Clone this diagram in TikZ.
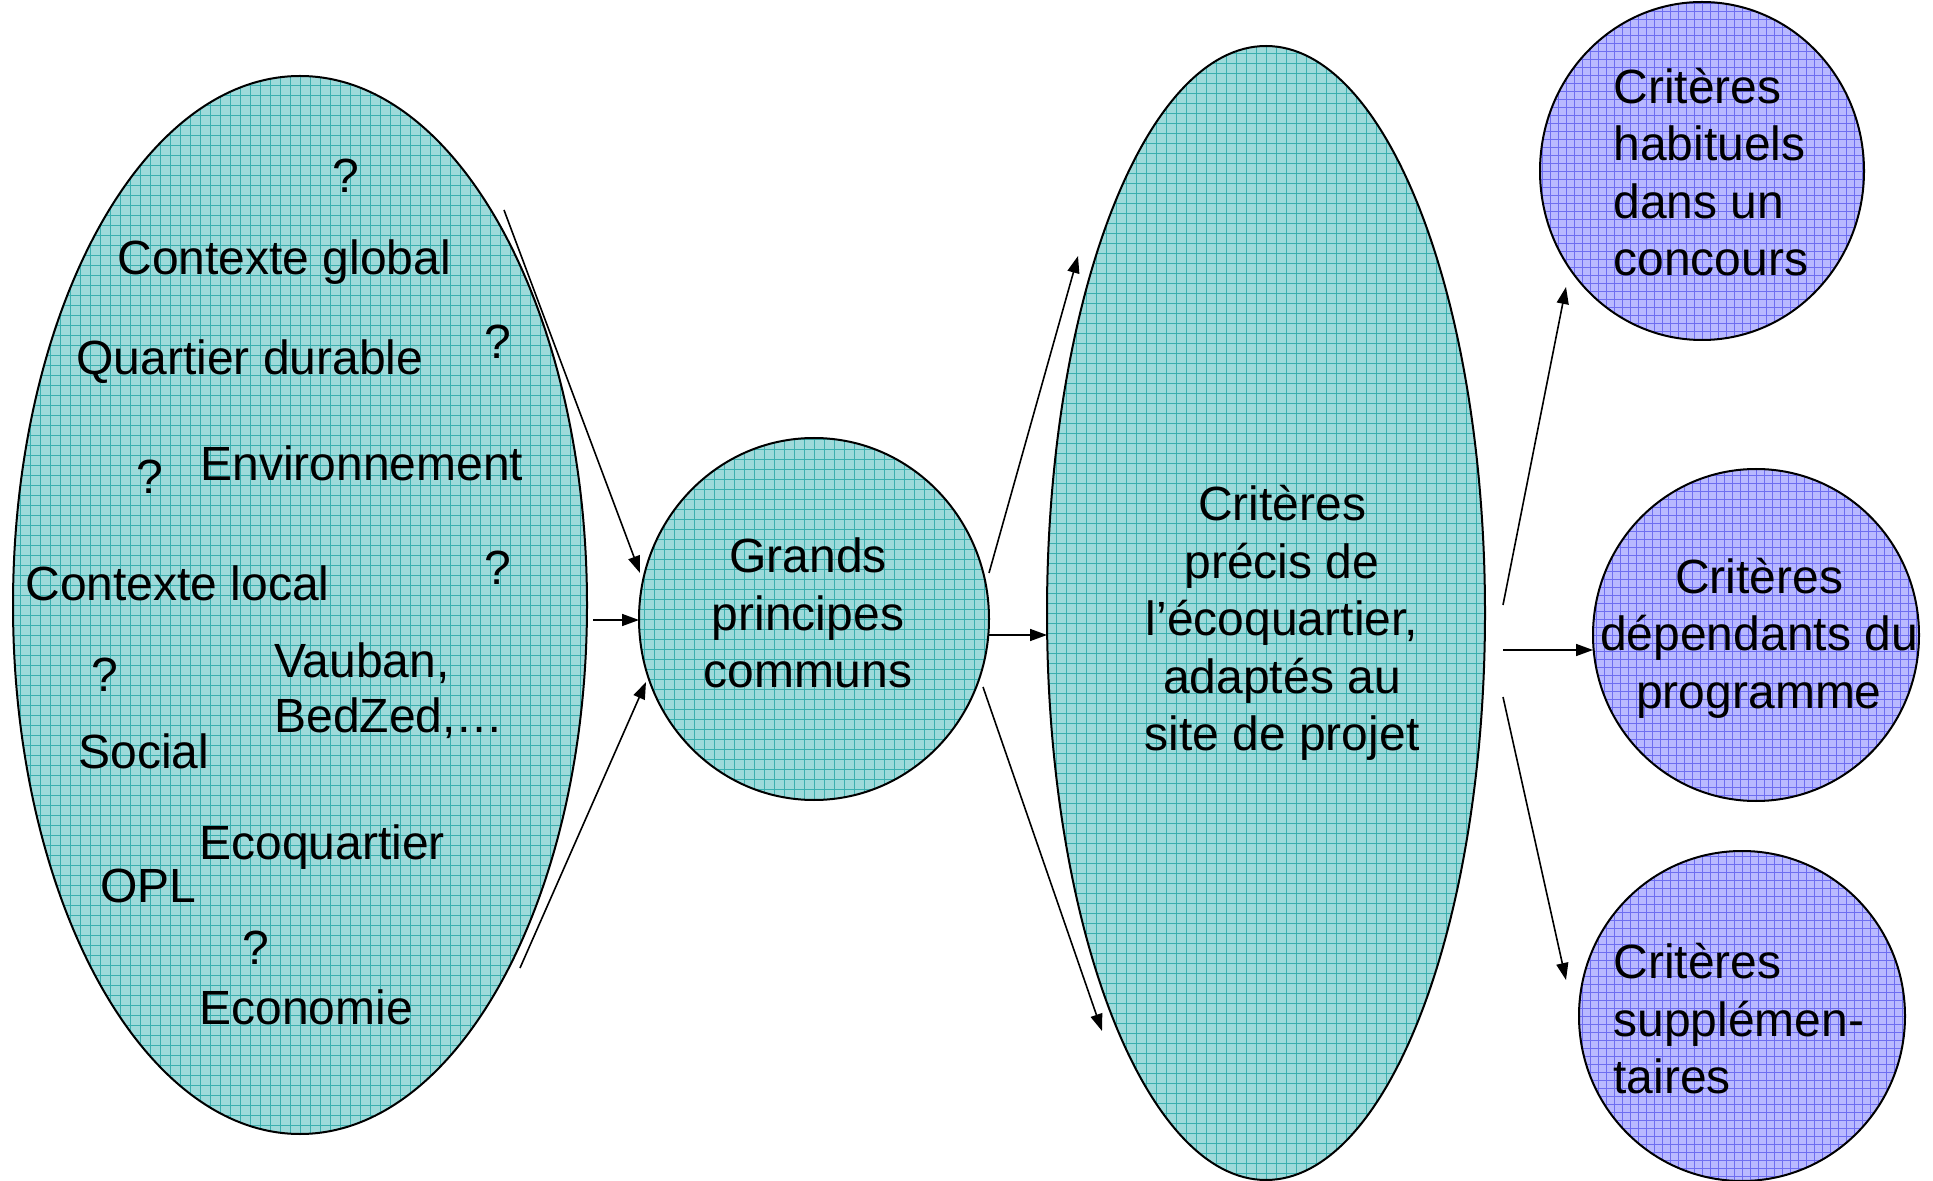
\documentclass[tikz,border=0pt]{standalone}
\usepackage{fontspec}
\setmainfont{Liberation Sans}
\usetikzlibrary{shapes.geometric,arrows.meta}
\definecolor{tealfill}{RGB}{158,218,218}
\definecolor{tealgrid}{RGB}{60,175,175}
\definecolor{bluefill}{RGB}{185,185,255}
\definecolor{bluegrid}{RGB}{110,110,240}
\tikzset{
  tealshape/.style={ellipse, draw=black, line width=1pt, fill=tealfill, inner sep=0pt,
    path picture={\draw[tealgrid, line width=0.4pt] (path picture bounding box.south west) grid[step=5pt] (path picture bounding box.north east);}},
  blueshape/.style={ellipse, draw=black, line width=1pt, fill=bluefill, inner sep=0pt,
    path picture={\draw[bluegrid, line width=0.35pt] (path picture bounding box.south west) grid[step=4pt] (path picture bounding box.north east);}},
  word/.style={inner sep=0pt, anchor=base west, font=\fontsize{24}{28.75}\selectfont},
  qmark/.style={inner sep=0pt, anchor=base, font=\fontsize{24}{28.75}\selectfont},
  block/.style={inner sep=0pt, align=center, font=\fontsize{24}{28.75}\selectfont},
  lblock/.style={inner sep=0pt, align=left, anchor=west, font=\fontsize{24}{28.75}\selectfont},
  link/.style={line width=0.8pt, -{Triangle[length=8.5pt,width=6pt]}}
}
\begin{document}
\begin{tikzpicture}[x=0.5pt,y=-0.5pt]
\useasboundingbox (0,0) rectangle (1933,1181);
% shapes
\node[tealshape, minimum width=287pt, minimum height=529pt] (ctx) at (300,605) {};
\node[tealshape, minimum width=175pt, minimum height=181pt] (gp) at (814,619) {};
\node[tealshape, minimum width=219pt, minimum height=567pt] (cp) at (1266,613) {};
\node[blueshape, minimum width=162pt, minimum height=169pt] (ch) at (1702,171) {};
\node[blueshape, minimum width=163pt, minimum height=166pt] (cd) at (1756,635) {};
\node[blueshape, minimum width=163pt, minimum height=165pt] (cs) at (1742,1016) {};
% left texts
\node[qmark] (q1) at (346,193) {?};
\node[word] (t1) at (117,275) {Contexte global};
\node[word] (t2) at (76,375) {Quartier durable};
\node[qmark] (q2) at (498,359) {?};
\node[qmark] (q3) at (150,494) {?};
\node[word] (t3) at (200,481) {Environnement};
\node[word] (t4) at (25,601) {Contexte local};
\node[qmark] (q4) at (498,585) {?};
\node[qmark] (q5) at (105,691) {?};
\node[word] (t5) at (274,677) {Vauban,};
\node[word] (t6) at (274,733) {BedZed,…};
\node[word] (t7) at (78,768) {Social};
\node[word] (t8) at (199,859) {Ecoquartier};
\node[word] (t9) at (100,902) {OPL};
\node[qmark] (q6) at (256,964) {?};
\node[word] (t10) at (199,1024) {Economie};
% other texts
\node[block] (gpt) at (808,613) {Grands\\principes\\communs};
\node[block] (cpt) at (1282,623) {Critères\\précis de\\l’écoquartier,\\adaptés au\\site de projet};
\node[lblock] (cht) at (1613,172) {Critères\\habituels\\dans un\\concours};
\node[block] (cdt) at (1759,638) {Critères\\dépendants du\\programme};
\node[lblock] (cst) at (1613,1019) {Critères\\supplémen-\\taires};
% connector ends
\coordinate (a1s) at (504,210);  \coordinate (a1e) at (640,573);
\coordinate (a2s) at (593,620);  \coordinate (a2e) at (639,620);
\coordinate (a3s) at (520,968);  \coordinate (a3e) at (646,682);
\coordinate (b1s) at (989,573);  \coordinate (b1e) at (1078,256);
\coordinate (b2s) at (989,635);  \coordinate (b2e) at (1047,635);
\coordinate (b3s) at (983,687);  \coordinate (b3e) at (1102,1031);
\coordinate (c1s) at (1503,605); \coordinate (c1e) at (1566,287);
\coordinate (c2s) at (1503,650); \coordinate (c2e) at (1593,650);
\coordinate (c3s) at (1503,697); \coordinate (c3e) at (1566,980);
\draw[link] (a1s) -- (a1e);
\draw[link] (a2s) -- (a2e);
\draw[link] (a3s) -- (a3e);
\draw[link] (b1s) -- (b1e);
\draw[link] (b2s) -- (b2e);
\draw[link] (b3s) -- (b3e);
\draw[link] (c1s) -- (c1e);
\draw[link] (c2s) -- (c2e);
\draw[link] (c3s) -- (c3e);
\end{tikzpicture}
\end{document}
